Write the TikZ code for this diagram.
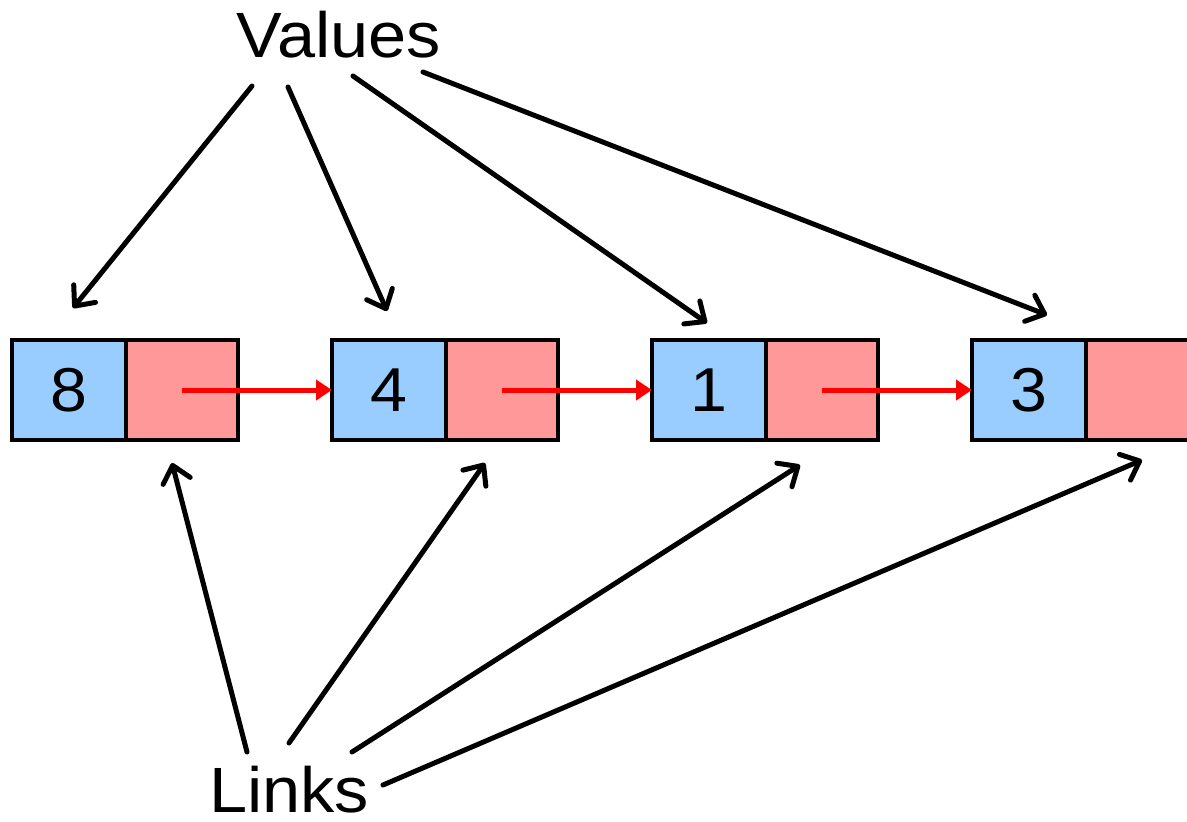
\documentclass[tikz,border=0pt]{standalone}
\usepackage{fontspec}
\setmainfont{Liberation Sans}[FakeStretch=1.07]
\usetikzlibrary{arrows.meta}
\definecolor{valblue}{HTML}{99CCFF}
\definecolor{linkred}{HTML}{FF9999}
\begin{document}
\begin{tikzpicture}[x=1pt,y=-1pt,
  cell/.style={draw=black,line width=4pt,minimum width=114pt,minimum height=100pt,inner sep=0pt,outer sep=0pt,anchor=north west},
  valcell/.style={cell,fill=valblue,font=\fontsize{62}{70}\selectfont},
  ptrcell/.style={cell,fill=linkred,minimum width=112pt},
  nextptr/.style={draw=red,line width=5pt,-{Triangle[length=16pt,width=20pt]}},
  label/.style={font=\fontsize{64}{72}\selectfont,inner sep=0pt,anchor=base},
  callout/.style={draw=black,line width=5pt,line cap=round,-{Straight Barb[length=16pt,width=28pt,line width=5pt,round]}}]
\useasboundingbox (0,0) rectangle (1187,822);
\begin{scope}
\clip (0,0) rectangle (1187,822);
% list cells: value part and link part
\node[valcell] (v1) at (12,340) {8};
\node[ptrcell] (p1) at (126,340) {};
\node[valcell] (v2) at (332,340) {4};
\node[ptrcell] (p2) at (446,340) {};
\node[valcell] (v3) at (652,340) {1};
\node[ptrcell] (p3) at (766,340) {};
\node[valcell] (v4) at (972,340) {3};
\node[ptrcell] (p4) at (1086,340) {};
% next pointers
\draw[nextptr] (p1.center) -- (v2.west);
\draw[nextptr] (p2.center) -- (v3.west);
\draw[nextptr] (p3.center) -- (v4.west);
\end{scope}
% labels
\node[label] (values) at (339,57) {Values};
\node[label] (links) at (289,812) {Links};
% callout endpoints
\coordinate (vs1) at (252,86);  \coordinate (vt1) at (73,308);
\coordinate (vs2) at (288,87);  \coordinate (vt2) at (387,311);
\coordinate (vs3) at (353,76);  \coordinate (vt3) at (707,323);
\coordinate (vs4) at (423,72);  \coordinate (vt4) at (1047,315);
\coordinate (ls1) at (247,752); \coordinate (lt1) at (172,463);
\coordinate (ls2) at (289,743); \coordinate (lt2) at (485,463);
\coordinate (ls3) at (352,752); \coordinate (lt3) at (800,465);
\coordinate (ls4) at (383,785); \coordinate (lt4) at (1142,460);
\foreach \i in {1,...,4}{
  \draw[callout] (vs\i) -- (vt\i);
  \draw[callout] (ls\i) -- (lt\i);
}
\end{tikzpicture}
\end{document}
